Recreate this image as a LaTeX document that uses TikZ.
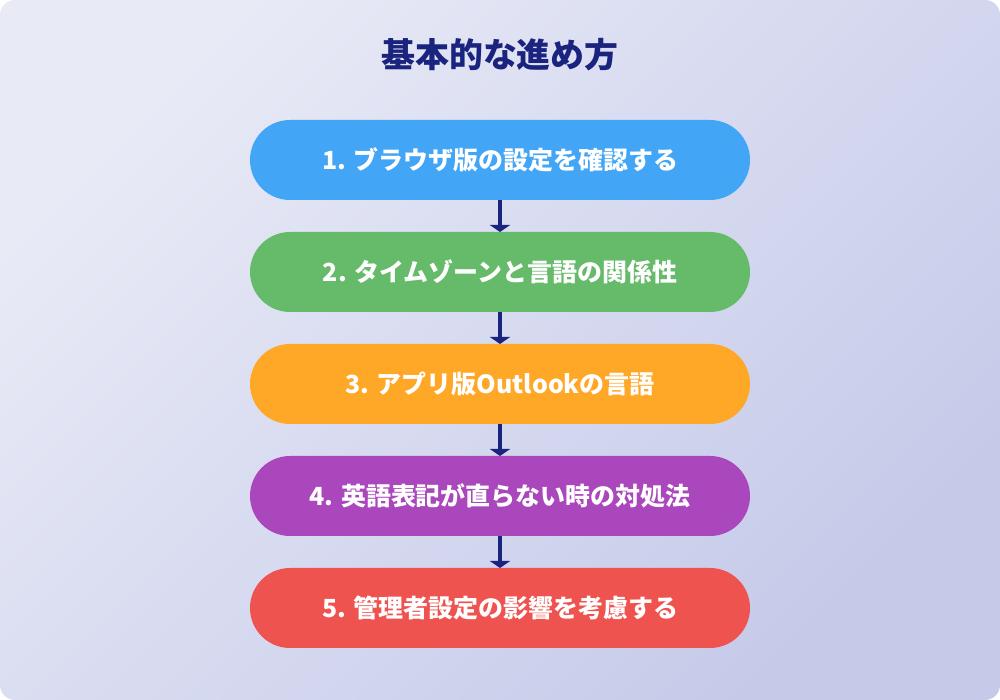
\documentclass[tikz,border=0pt]{standalone}
\usepackage{fontspec}
\newfontfamily\jp{Noto Sans CJK JP}
\usepackage{tikz}
\usetikzlibrary{positioning,arrows.meta}

\definecolor{bgtop}{HTML}{E8EAF6}
\definecolor{bgbot}{HTML}{C5CAE9}
\definecolor{navy}{HTML}{1A237E}
\definecolor{stepblue}{HTML}{42A5F5}
\definecolor{stepgreen}{HTML}{66BB6A}
\definecolor{steporange}{HTML}{FFA726}
\definecolor{steppurple}{HTML}{AB47BC}
\definecolor{stepred}{HTML}{EF5350}

\begin{document}
\begin{tikzpicture}[
			stepbox/.style={rectangle, rounded corners=0.8cm, minimum width=10cm, minimum height=1.6cm, outer sep=0pt, text=white, font=\jp\bfseries\fontsize{14.2}{17}\selectfont},
			flow/.style={-{Triangle[width=0.4cm,length=0.14cm]}, navy, line width=0.08cm},
			node distance=0.64cm,
		]
		
			%Background
			\useasboundingbox (0,0) rectangle (20,14);
			\shade[rounded corners=0.3cm, top color=bgtop, bottom color=bgbot, shading angle=45] (0,0) rectangle (20,14);
		
			%Nodes
			\node[text=navy, font=\jp\bfseries\fontsize{19.3}{23}\selectfont]	(title)	at (10,12.9)	{基本的な進め方};
			\node[stepbox, fill=stepblue]	(s1)	at (10,10.8)		{1. ブラウザ版の設定を確認する};
			\node[stepbox, fill=stepgreen]	(s2)[below=of s1]	{2. タイムゾーンと言語の関係性};
			\node[stepbox, fill=steporange]	(s3)[below=of s2]	{3. アプリ版Outlookの言語};
			\node[stepbox, fill=steppurple]	(s4)[below=of s3]	{4. 英語表記が直らない時の対処法};
			\node[stepbox, fill=stepred]	(s5)[below=of s4]	{5. 管理者設定の影響を考慮する};
		
			%Lines
			\draw[flow]	(s1.south) -- (s2.north);
			\draw[flow]	(s2.south) -- (s3.north);
			\draw[flow]	(s3.south) -- (s4.north);
			\draw[flow]	(s4.south) -- (s5.north);
		
		\end{tikzpicture}
\end{document}
